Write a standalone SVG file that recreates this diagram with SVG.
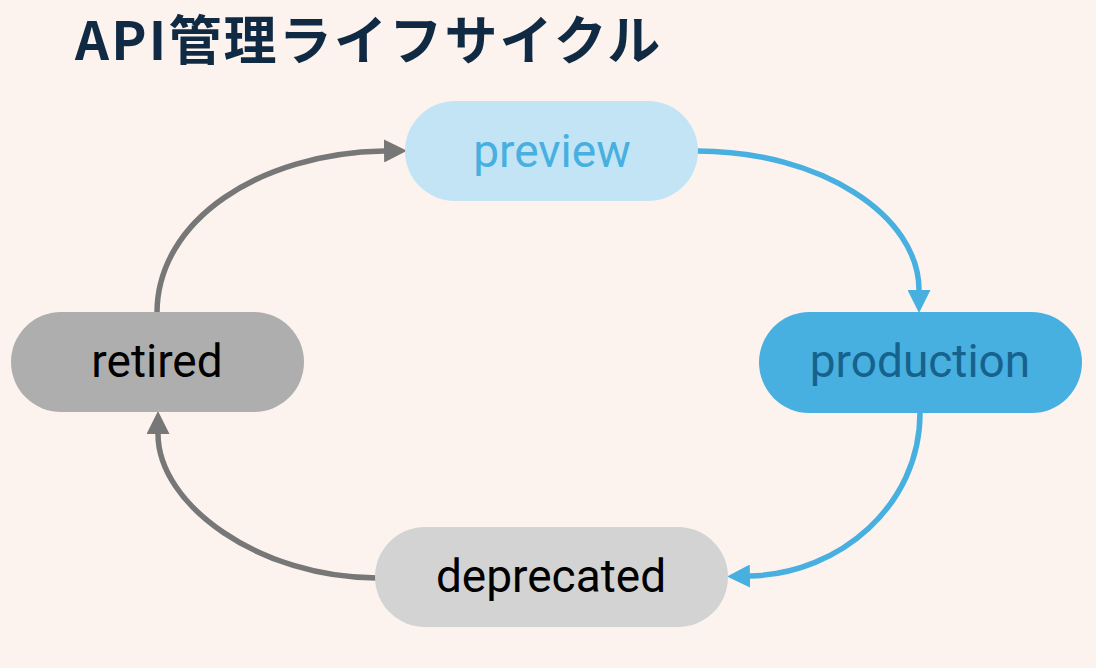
<svg xmlns="http://www.w3.org/2000/svg" width="1096" height="668" viewBox="0 0 1096 668">
<defs>
<style>
.title{font-family:"Noto Sans CJK JP","Noto Sans",sans-serif;font-weight:700;font-size:53px;fill:#112a44;letter-spacing:2.2px}
.lbl{font-family:Roboto,"Liberation Sans",sans-serif;font-size:46px;text-anchor:middle}
.edge{fill:none;stroke-width:5.5}
.blue{stroke:#47b0e0}
.gray{stroke:#777777}
</style>
<marker id="ab" viewBox="0 0 23 23" refX="0" refY="11.5" markerWidth="23" markerHeight="23" markerUnits="userSpaceOnUse" orient="auto">
<path d="M0,0 L23,11.5 L0,23 Z" fill="#47b0e0"/>
</marker>
<marker id="ag" viewBox="0 0 23 23" refX="0" refY="11.5" markerWidth="23" markerHeight="23" markerUnits="userSpaceOnUse" orient="auto">
<path d="M0,0 L23,11.5 L0,23 Z" fill="#777777"/>
</marker>
</defs>
<rect width="1096" height="668" fill="#fcf3ee"/>
<text class="title" x="75" y="60">API管理ライフサイクル</text>
<g id="connectors">
<path class="edge blue" d="M697,151 C820,151 919,215 919,290" marker-end="url(#ab)"/>
<path class="edge blue" d="M920,413 C920,505 840,574 750,576" marker-end="url(#ab)"/>
<path class="edge gray" d="M377,578 C260,578 158,505 158,434" marker-end="url(#ag)"/>
<path class="edge gray" d="M157,313 C157,220 260,153 384,151" marker-end="url(#ag)"/>
</g>
<g id="preview">
<rect x="405" y="101" width="293" height="100" rx="50" fill="#c2e4f4"/>
<text class="lbl" x="552" y="167" fill="#47b0e0">preview</text>
</g>
<g id="production">
<rect x="759" y="312" width="323" height="101" rx="50.5" fill="#47b0e0"/>
<text class="lbl" x="920" y="377" fill="#17628c">production</text>
</g>
<g id="retired">
<rect x="11" y="312" width="293" height="100" rx="50" fill="#aeaeae"/>
<text class="lbl" x="157" y="377" fill="#000000">retired</text>
</g>
<g id="deprecated">
<rect x="375" y="527" width="353" height="100" rx="50" fill="#d3d3d3"/>
<text class="lbl" x="551" y="592" fill="#000000">deprecated</text>
</g>
</svg>
